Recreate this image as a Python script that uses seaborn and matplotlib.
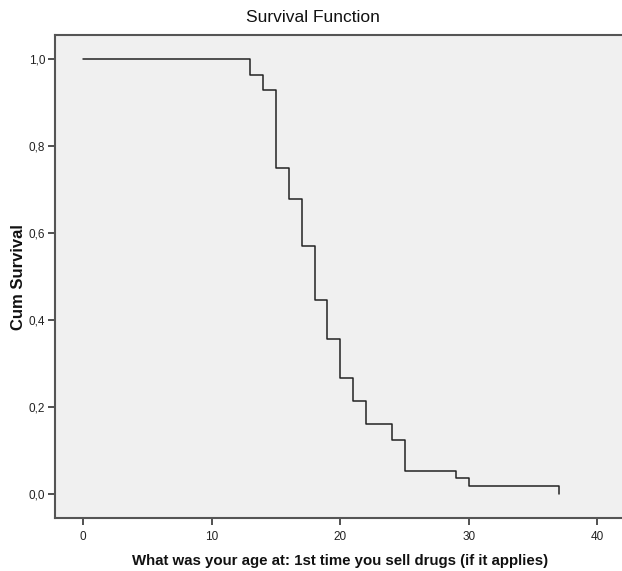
import matplotlib
matplotlib.use("Agg")
import matplotlib.pyplot as plt
import seaborn as sns
import pandas as pd

# Data (Kaplan-Meier survival, N = 56)
ages = [0, 13, 14, 15, 16, 17, 18, 19, 20, 21, 22, 24, 25, 29, 30, 37]
cum_survival = [1.0, 54/56, 52/56, 42/56, 38/56, 32/56, 25/56, 20/56, 15/56,
                12/56, 9/56, 7/56, 3/56, 2/56, 1/56, 0.0]
x_ticks = [0, 10, 20, 30, 40]
y_ticks = [0.0, 0.2, 0.4, 0.6, 0.8, 1.0]
y_tick_labels = ["0,0", "0,2", "0,4", "0,6", "0,8", "1,0"]

df = pd.DataFrame({"age": ages, "surv": cum_survival})

sns.set_theme(style="white")
plt.rcParams["font.family"] = ["Liberation Sans Narrow", "Liberation Sans", "DejaVu Sans"]

W, H = 622, 571
fig = plt.figure(figsize=(W / 100, H / 100), dpi=100)
left, right, top, bottom = 55, 625, 35, 518.3
ax = fig.add_axes([left / W, (H - bottom) / H, (right - left) / W, (bottom - top) / H])
ax.set_facecolor("#f0f0f0")
fig.patch.set_facecolor("white")

sns.lineplot(data=df, x="age", y="surv", drawstyle="steps-post", estimator=None,
             color="#222222", linewidth=1.1, ax=ax)

# x in data units: 0 at px 83.3, 12.85 px/unit
x0, sx = 83.3, 12.85
ax.set_xlim((left - x0) / sx, (right - x0) / sx)
y0, sy = 494.0, 434.7
ax.set_ylim((y0 - bottom) / sy, (y0 - top) / sy)

ax.set_xticks(x_ticks)
ax.set_xticklabels([str(t) for t in x_ticks])
ax.set_yticks(y_ticks)
ax.set_yticklabels(y_tick_labels)
ax.tick_params(axis="both", direction="out", length=5, width=1.2, color="#333333",
               labelsize=8.5, labelcolor="#222222", pad=2, bottom=True, left=True)
ax.tick_params(axis="x", pad=4)

for side in ["left", "bottom", "top"]:
    ax.spines[side].set_visible(True)
    ax.spines[side].set_color("#555555")
    ax.spines[side].set_linewidth(1.5)
ax.spines["right"].set_visible(False)

ax.set_xlabel("What was your age at: 1st time you sell drugs (if it applies)",
              fontsize=10.8, fontweight="bold", color="#111111", labelpad=8)
ax.set_ylabel("Cum Survival", fontsize=12, fontweight="bold", color="#111111", labelpad=2)
fig.text(0.503, 1 - 18 / H, "Survival Function", ha="center", va="center",
         fontsize=12.5, fontweight="medium", color="#111111")

fig.savefig("out.png", dpi=100)
